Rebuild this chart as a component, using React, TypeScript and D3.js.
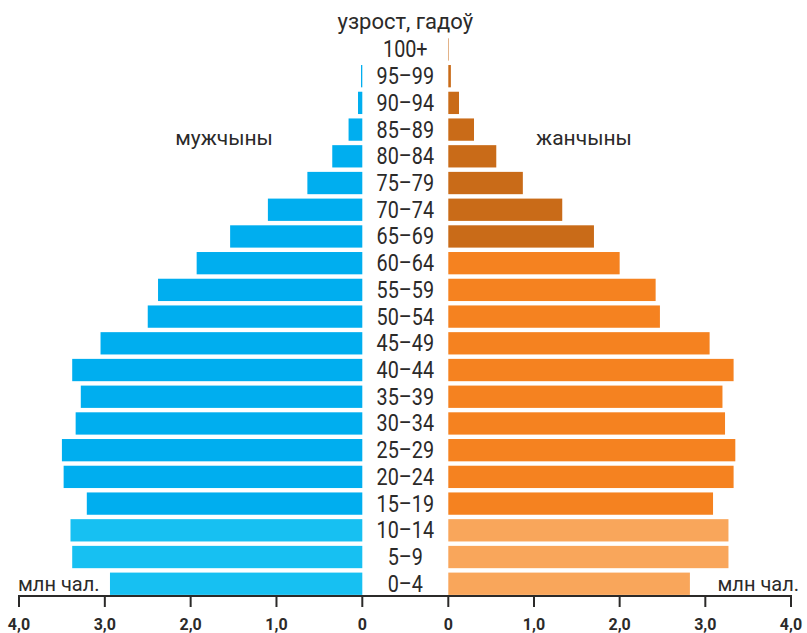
import React from "react";
import * as d3 from "d3";

const ages = ["100+","95–99","90–94","85–89","80–84","75–79","70–74","65–69","60–64","55–59","50–54","45–49","40–44","35–39","30–34","25–29","20–24","15–19","10–14","5–9","0–4"];
const male = [0.0,0.015,0.05,0.16,0.35,0.64,1.1,1.54,1.93,2.38,2.5,3.05,3.38,3.28,3.34,3.5,3.48,3.21,3.4,3.38,2.94];
const female = [0.006,0.03,0.125,0.3,0.56,0.87,1.33,1.7,2.0,2.42,2.47,3.05,3.33,3.2,3.23,3.35,3.33,3.09,3.27,3.27,2.82];
const ticks = [0,1,2,3,4];
const tickLabels = ["0","1,0","2,0","3,0","4,0"];

const W = 807, H = 633;
const textColor = "#2b2a29";
const font = "Roboto, 'Noto Sans', sans-serif";

function maleColor(age: string) {
  if (["10–14","5–9","0–4"].includes(age)) return "#17c0f2";
  return "#00aeef";
}
function femaleColor(age: string) {
  if (["10–14","5–9","0–4"].includes(age)) return "#f9a65b";
  if (["100+","95–99","90–94","85–89","80–84","75–79","70–74","65–69"].includes(age)) return "#c96b18";
  return "#f58220";
}

export default function App() {
  const xL = d3.scaleLinear().domain([0, 4]).range([362.3, 19]);
  const xR = d3.scaleLinear().domain([0, 4]).range([448.3, 791]);
  const y = d3.scaleBand<string>().domain(ages).range([36.1, 597.1]).paddingInner(0.165).paddingOuter(0.0825);
  const axisY = 596;
  const midX = (xL(0) + xR(0)) / 2;
  return (
    <svg width={W} height={H} style={{ position: "absolute", left: 0, top: 0, background: "#fff" }} fontFamily={font}>
      {ages.map((a, i) => (
        <rect key={"m" + a} x={xL(male[i])} y={y(a)!} width={xL(0) - xL(male[i])} height={y.bandwidth()} fill={maleColor(a)} />
      ))}
      {ages.map((a, i) => (
        <rect key={"f" + a} x={xR(0)} y={y(a)!} width={xR(female[i]) - xR(0)} height={y.bandwidth()} fill={femaleColor(a)} />
      ))}
      {ages.map((a) => (
        <text key={"t" + a} transform={`translate(${midX},${y(a)! + y.bandwidth() / 2 + 8}) scale(0.86,1)`} textAnchor="middle" fontSize={23} fill={textColor}>{a}</text>
      ))}
      <text x={midX} y={29} textAnchor="middle" fontSize={22} fill={textColor}>узрост, гадоў</text>
      <text x={224} y={145} textAnchor="middle" fontSize={21} fill={textColor}>мужчыны</text>
      <text x={584} y={145} textAnchor="middle" fontSize={21} fill={textColor}>жанчыны</text>
      <text x={18} y={591} textAnchor="start" fontSize={20} fill={textColor}>млн чал.</text>
      <text x={799} y={591} textAnchor="end" fontSize={20} fill={textColor}>млн чал.</text>
      <line x1={xL(4) - 1} x2={xR(4) + 1} y1={axisY} y2={axisY} stroke={textColor} strokeWidth={2} />
      {ticks.map((t, i) => (
        <g key={"lt" + t}>
          <line x1={xL(t)} x2={xL(t)} y1={axisY} y2={axisY + 11} stroke={textColor} strokeWidth={2} />
          <text x={xL(t)} y={630} textAnchor="middle" fontSize={16} fontWeight="bold" fill={textColor}>{tickLabels[i]}</text>
        </g>
      ))}
      {ticks.map((t, i) => (
        <g key={"rt" + t}>
          <line x1={xR(t)} x2={xR(t)} y1={axisY} y2={axisY + 11} stroke={textColor} strokeWidth={2} />
          <text x={xR(t)} y={630} textAnchor="middle" fontSize={16} fontWeight="bold" fill={textColor}>{tickLabels[i]}</text>
        </g>
      ))}
    </svg>
  );
}
